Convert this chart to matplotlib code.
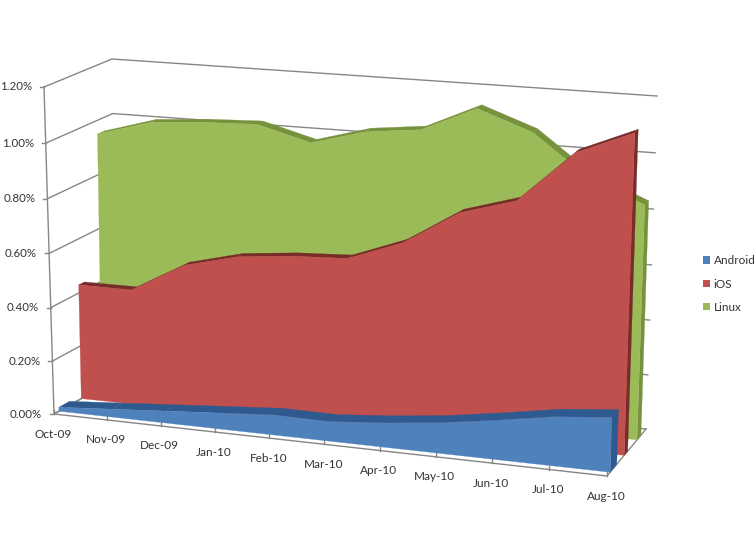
import numpy as np
import matplotlib
matplotlib.use("Agg")
import matplotlib.pyplot as plt
from matplotlib.patches import Patch

months = ["Oct-09", "Nov-09", "Dec-09", "Jan-10", "Feb-10", "Mar-10",
          "Apr-10", "May-10", "Jun-10", "Jul-10", "Aug-10"]
android = [0.015, 0.03, 0.045, 0.06, 0.075, 0.073, 0.09, 0.113, 0.145, 0.18, 0.20]
ios = [0.43, 0.43, 0.54, 0.59, 0.61, 0.62, 0.695, 0.82, 0.88, 1.065, 1.15]
linux = [0.95, 1.007, 1.022, 1.03, 0.978, 1.033, 1.055, 1.145, 1.075, 0.93, 0.85]
y_ticks = [0.0, 0.2, 0.4, 0.6, 0.8, 1.0, 1.2]
y_max = 1.2

plt.rcParams['font.family'] = ['Lato', 'DejaVu Sans']
fig = plt.figure(figsize=(7.55, 5.4), dpi=100)
ax = fig.add_axes([0, 0, 1, 1])
ax.set_xlim(0, 755)
ax.set_ylim(540, 0)
ax.axis('off')

# box corners in the picture: bottom-left, bottom-right, top-right, top-left
FRONT = np.array([[54, 414], [607, 476], [618, 136], [44, 87]], float)
BACK = np.array([[116, 379], [646, 429], [657, 96], [112, 59]], float)


def homography(c):
    src = [(0, 0), (1, 0), (1, 1), (0, 1)]
    A, b = [], []
    for (u, w), (X, Y) in zip(src, c):
        A.append([u, w, 1, 0, 0, 0, -u * X, -w * X]); b.append(X)
        A.append([0, 0, 0, u, w, 1, -u * Y, -w * Y]); b.append(Y)
    h = np.linalg.solve(np.array(A), np.array(b))
    return np.append(h, 1).reshape(3, 3)


def project(x, v, d):
    """Category index, value and depth (0 front .. 1 back) to picture position."""
    H = homography(FRONT + (BACK - FRONT) * d)
    x = np.atleast_1d(np.asarray(x, float))
    v = np.atleast_1d(np.asarray(v, float))
    if v.size == 1:
        v = np.full(x.shape, v[0])
    if x.size == 1:
        x = np.full(v.shape, x[0])
    p = H @ np.vstack([x / (len(months) - 1), v / y_max, np.ones(x.size)])
    return p[0] / p[2], p[1] / p[2]


GRID = '#868686'
last = len(months) - 1
# gridlines on the walls
for t in y_ticks:
    x1, y1 = project([0, 0], t, 0)[0][0], project([0, 0], t, 0)[1][0]
    xb, yb = project([0, last], t, 1)
    ax.plot([x1, xb[0], xb[1]], [y1, yb[0], yb[1]], color=GRID, lw=1, zorder=1)
    ax.plot([x1 - 4, x1], [y1, y1], color=GRID, lw=1, zorder=1)
    ax.text(x1 - 12, y1, f"{t:.2f}%", ha='right', va='center', fontsize=8.3,
            color='#333333')
# vertical axis
xa, ya = project([0, 0], [0, y_max], 0)
ax.plot(xa, ya, color=GRID, lw=1, zorder=1)
# floor edges
xf, yf = project([0, last], 0, 0)
xb, yb = project([0, last], 0, 1)
ax.plot([xb[0], xf[0], xf[1], xb[1]], [yb[0], yf[0], yf[1], yb[1]],
        color=GRID, lw=1, zorder=1)
# category ticks and labels
for i, m in enumerate(months):
    tx, ty = project(i, 0, 0)
    ax.plot([tx[0], tx[0]], [ty[0], ty[0] - 4], color=GRID, lw=1, zorder=1)
    ax.text(tx[0] - 1, ty[0] + 20, m, ha='center', va='center', fontsize=8.5,
            color='#333333')

series = [
    (linux, 0.77, 0.87, '#9BBB59', '#76923C', 'Linux'),
    (ios, 0.44, 0.53, '#C0504D', '#772C2A', 'iOS'),
    (android, 0.08, 0.25, '#4F81BD', '#2F5A8F', 'Android'),
]
xs = np.arange(len(months))
z = 2
for vals, d0, d1, face, dark, name in series:
    vals = np.array(vals)
    # extruded top
    for i in range(last):
        ax0, ay0 = project(xs[i:i + 2], vals[i:i + 2], d0)
        ax1, ay1 = project(xs[i:i + 2], vals[i:i + 2], d1)
        ax.fill([ax0[0], ax0[1], ax1[1], ax1[0]], [ay0[0], ay0[1], ay1[1], ay1[0]],
                color=dark, lw=0.2, zorder=z)
    # right end
    ex0, ey0 = project(last, [0, vals[-1]], d0)
    ex1, ey1 = project(last, [0, vals[-1]], d1)
    ax.fill([ex0[0], ex0[1], ex1[1], ex1[0]], [ey0[0], ey0[1], ey1[1], ey1[0]],
            color=dark, lw=0.2, zorder=z)
    # front face
    fx, fy = project(xs, vals, d0)
    bx, by = project(xs, 0, d0)
    ax.fill(np.r_[fx, bx[::-1]], np.r_[fy, by[::-1]], color=face, lw=0.2, zorder=z + 1)
    z += 2

handles = [Patch(facecolor=s[3], edgecolor='none', label=s[5]) for s in series[::-1]]
ax.legend(handles=handles, loc='center left', bbox_to_anchor=(703 / 755, 1 - 284 / 540),
          frameon=False, fontsize=8.5, labelspacing=1.05, handlelength=0.6,
          handleheight=0.6, handletextpad=0.3, borderpad=0, borderaxespad=0,
          labelcolor='#333333')
fig.savefig('out.png', dpi=100)
